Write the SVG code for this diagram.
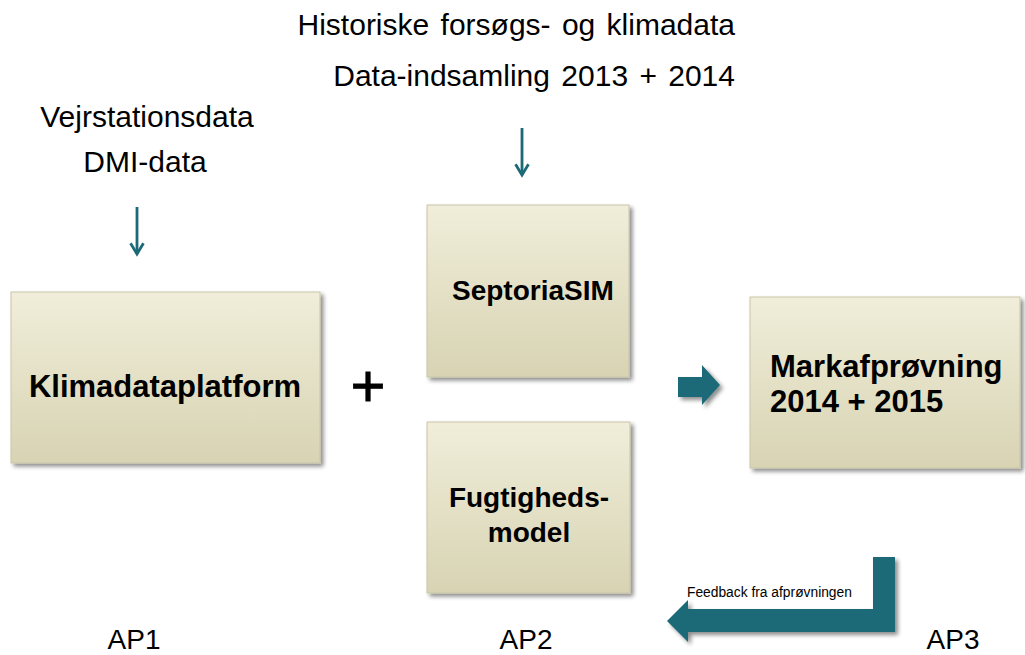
<svg xmlns="http://www.w3.org/2000/svg" width="1025" height="655" viewBox="0 0 1025 655">
  <defs>
    <linearGradient id="boxFill" x1="0" y1="0" x2="0" y2="1">
      <stop offset="0" stop-color="#F0EEDA"/>
      <stop offset="1" stop-color="#D8D3B3"/>
    </linearGradient>
    <filter id="shadow" x="-10%" y="-10%" width="125%" height="125%">
      <feGaussianBlur in="SourceAlpha" stdDeviation="2"/>
      <feOffset dx="3" dy="3" result="b"/>
      <feComponentTransfer><feFuncA type="linear" slope="0.45"/></feComponentTransfer>
      <feMerge><feMergeNode/><feMergeNode in="SourceGraphic"/></feMerge>
    </filter>
    <marker id="head" viewBox="0 0 10 10" refX="8" refY="5" markerWidth="5.5" markerHeight="5.5" orient="auto" markerUnits="strokeWidth">
      <path d="M1 0.8 L8 5 L1 9.2" fill="none" stroke="#1C6A77" stroke-width="1.8"/>
    </marker>
  </defs>
  <style>
    .box { fill: url(#boxFill); stroke: #C9C5A8; stroke-width: 1; filter: url(#shadow); }
    .bold { font-family: "Liberation Sans", Arial, sans-serif; font-weight: bold; fill: #000; }
    .reg { font-family: "Liberation Sans", Arial, sans-serif; fill: #000; }
    .teal { fill: #1C6A77; }
    .down { stroke: #1C6A77; stroke-width: 2.8; fill: none; marker-end: url(#head); }
  </style>

  <rect width="1025" height="655" fill="#FFFFFF"/>

  <!-- input texts -->
  <g id="inputs-ap1">
    <text class="reg" x="147" y="127" font-size="30" text-anchor="middle">Vejrstationsdata</text>
    <text class="reg" x="145" y="172" font-size="30" text-anchor="middle">DMI-data</text>
  </g>
  <g id="inputs-ap2">
    <text class="reg" x="735" y="35" font-size="30" text-anchor="end" word-spacing="3">Historiske forsøgs- og klimadata</text>
    <text class="reg" x="735" y="86" font-size="30" text-anchor="end" word-spacing="3">Data-indsamling 2013 + 2014</text>
  </g>

  <!-- nodes -->
  <g id="klimadataplatform">
    <rect class="box" x="11" y="292" width="309" height="171"/>
    <text class="bold" x="165" y="397" font-size="31" text-anchor="middle">Klimadataplatform</text>
  </g>
  <g id="plus">
    <text class="reg" x="368" y="406" font-size="60" text-anchor="middle" stroke="#000" stroke-width="0.8">+</text>
  </g>
  <g id="septoriasim">
    <rect class="box" x="427" y="205" width="202" height="172"/>
    <text class="bold" x="452" y="300" font-size="28">SeptoriaSIM</text>
  </g>
  <g id="fugtighedsmodel">
    <rect class="box" x="427" y="422" width="203" height="171"/>
    <text class="bold" x="529" y="507" font-size="28" text-anchor="middle">Fugtigheds-</text>
    <text class="bold" x="529" y="542" font-size="28" text-anchor="middle">model</text>
  </g>
  <g id="markafproevning">
    <rect class="box" x="750" y="297" width="270" height="171"/>
    <text class="bold" x="770" y="377" font-size="31">Markafprøvning</text>
    <text class="bold" x="770" y="412" font-size="31">2014 + 2015</text>
  </g>

  <!-- connectors -->
  <g id="connectors">
    <line class="down" x1="137" y1="207" x2="137" y2="254"/>
    <line class="down" x1="522" y1="128" x2="522" y2="175"/>
    <path class="teal" d="M678 377 L702 377 L702 365 L720 385 L702 405 L702 397 L678 397 Z" filter="url(#shadow)"/>
    <path class="teal" d="M873 557 L895 557 L895 632 L688 632 L688 642 L667 621 L688 600 L688 609 L873 609 Z" filter="url(#shadow)"/>
    <text class="reg" x="687" y="597" font-size="13.8">Feedback fra afprøvningen</text>
  </g>

  <!-- work package labels -->
  <g id="labels">
    <text class="reg" x="134" y="649" font-size="28" text-anchor="middle">AP1</text>
    <text class="reg" x="526" y="649" font-size="28" text-anchor="middle">AP2</text>
    <text class="reg" x="953" y="649" font-size="28" text-anchor="middle">AP3</text>
  </g>
</svg>
